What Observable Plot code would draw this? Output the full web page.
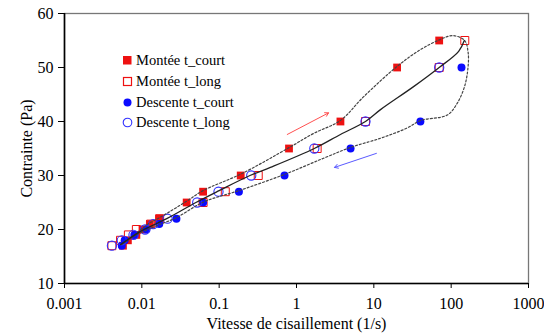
<!DOCTYPE html>
<html>
<head>
<meta charset="utf-8">
<script src="https://cdn.jsdelivr.net/npm/d3@7"></script>
<script src="https://cdn.jsdelivr.net/npm/@observablehq/plot@0.6"></script>
<style>
  body { margin: 0; background: #fff; }
  #wrap { position: relative; width: 544px; height: 335px; font-family: 'Liberation Serif', 'Times New Roman', serif; }
  .leg { position: absolute; left: 122px; font-size: 14.5px; line-height: 14px; color: #000; display: flex; align-items: center; white-space: nowrap; font-family: 'Liberation Serif', serif; }
  .leg svg { margin-right: 3px; }
</style>
</head>
<body>
<div id="wrap"></div>
<script>
// ---- Data ----
const xTicks = [0.001, 0.01, 0.1, 1, 10, 100, 1000];
const xTickLabels = ["0.001", "0.01", "0.1", "1", "10", "100", "1000"];
const yTicks = [10, 20, 30, 40, 50, 60];

const monteeCourtX = [0.0057, 0.0066, 0.0085, 0.0102, 0.0127, 0.0168, 0.038, 0.062, 0.19, 0.80, 3.7, 20, 70];
const monteeCourtY = [17, 18, 19, 20, 21, 22, 25, 27, 30, 35, 40, 50, 55];

const monteeLongX = [0.0041, 0.0053, 0.0067, 0.0085, 0.013, 0.017, 0.062, 0.12, 0.32, 1.85, 7.8, 70, 150];
const monteeLongY = [17, 18, 19, 20, 21, 22, 25, 27, 30, 35, 40, 50, 55];

const descenteCourtX = [0.0055, 0.006, 0.008, 0.0115, 0.0168, 0.028, 0.062, 0.18, 0.70, 5.0, 40, 136];
const descenteCourtY = [17, 18, 19, 20, 21, 22, 25, 27, 30, 35, 40, 50];

const descenteLongX = [0.0041, 0.0055, 0.0078, 0.011, 0.014, 0.0215, 0.052, 0.098, 0.26, 1.7, 7.8, 70];
const descenteLongY = [17, 18, 19, 20, 21, 22, 25, 27, 30, 35, 40, 50];

// solid fitted curve
const fitX = [0.0053, 0.01, 0.021, 0.05, 0.1, 0.25, 0.46, 1.7, 3.7, 7.8, 12.2, 33, 70, 125, 148];
const fitY = [17.2, 19.8, 22, 25, 27.2, 30, 31.5, 35, 37.6, 40, 42.2, 46.5, 50, 53, 55];

// dashed hysteresis loop (closed path)
const loopX = [0.0055, 0.008, 0.012, 0.017, 0.0386, 0.062, 0.193, 0.81, 1.67, 3.7, 7.4, 20, 40, 70, 105, 149, 166, 164, 149, 120, 89, 40.5, 27, 12.2, 5.0, 2.24, 0.70, 0.18, 0.063, 0.028, 0.015, 0.008, 0.0055];
const loopY = [17.2, 19, 21, 22.2, 25.3, 27.2, 30.3, 35.2, 37.8, 40.2, 44.6, 50.2, 53.3, 55.1, 55.9, 55, 52.7, 49.6, 46.5, 43.4, 41.2, 40.2, 38.8, 36.9, 35.2, 33.2, 30.2, 27.2, 25.1, 22.2, 20.6, 18.8, 17.2];

// direction arrows
const arrowX1 = [0.76, 10.8];
const arrowY1 = [37.6, 34.1];
const arrowX2 = [2.6, 3.1];
const arrowY2 = [41.6, 31.5];
const arrowColors = ["#ff5050", "#5a5aff"];

const legendLabels = ["Montée t_court", "Montée t_long", "Descente t_court", "Descente t_long"];

// ---- Build tables ----
const pts = (xs, ys) => xs.map((x, i) => ({x, y: ys[i]}));
const mc = pts(monteeCourtX, monteeCourtY);
const ml = pts(monteeLongX, monteeLongY);
const dc = pts(descenteCourtX, descenteCourtY);
const dl = pts(descenteLongX, descenteLongY);
const fit = pts(fitX, fitY);
const loop = pts(loopX, loopY);
const arrows = arrowX1.map((x1, i) => ({x1, y1: arrowY1[i], x2: arrowX2[i], y2: arrowY2[i], c: arrowColors[i]}));

const RED = "#ee1111";
const BLUE = "#0a0aff";

const chart = Plot.plot({
  width: 544,
  height: 335,
  marginLeft: 64,
  marginRight: 16,
  marginTop: 13,
  marginBottom: 52,
  style: {fontFamily: "'Liberation Serif', 'Times New Roman', serif", fontSize: "16px", color: "#000", background: "#fff"},
  x: {type: "log", domain: [0.001, 1000], labelArrow: "none"},
  y: {domain: [10, 60], labelArrow: "none"},
  marks: [
    Plot.frame({stroke: "#777", strokeWidth: 1.3}),
    Plot.ruleX([0.001], {stroke: "#000", strokeWidth: 1.6}),
    Plot.ruleY([10], {stroke: "#000", strokeWidth: 1.6}),
    Plot.axisX({ticks: xTicks, tickFormat: d => xTickLabels[xTicks.indexOf(d)], tickSize: 5, tickPadding: 9,
      label: "Vitesse de cisaillement (1/s)", labelAnchor: "center", labelOffset: 45, labelArrow: "none", stroke: "#000"}),
    Plot.axisY({ticks: yTicks, tickSize: 6, tickPadding: 5,
      label: "Contrainte (Pa)", labelAnchor: "center", labelOffset: 44, labelArrow: "none", stroke: "#000"}),
    Plot.dot(mc, {x: "x", y: "y", symbol: "square", r: 4.4, fill: RED, stroke: "none"}),
    Plot.dot(ml, {x: "x", y: "y", symbol: "square", r: 4.5, fill: "none", stroke: RED, strokeWidth: 1}),
    Plot.dot(dc, {x: "x", y: "y", symbol: "circle", r: 4, fill: BLUE, stroke: "none"}),
    Plot.dot(dl, {x: "x", y: "y", symbol: "circle", r: 4.6, fill: "none", stroke: "#3030ff", strokeWidth: 1.1}),
    Plot.line(loop, {x: "x", y: "y", curve: "catmull-rom", stroke: "#444", strokeWidth: 1.2, strokeDasharray: "2,2"}),
    Plot.line(fit, {x: "x", y: "y", curve: "catmull-rom", stroke: "#222", strokeWidth: 1.3}),
    Plot.arrow(arrows, {x1: "x1", y1: "y1", x2: "x2", y2: "y2", stroke: "c", strokeWidth: 1, headLength: 6})
  ]
});

const wrap = document.getElementById("wrap");
wrap.appendChild(chart);

// Legend (HTML overlay inside plot area)
const legSymbols = [
  '<svg width="11" height="11"><rect x="1" y="1" width="8.5" height="8.5" style="fill:' + RED + ';stroke:none"/></svg>',
  '<svg width="11" height="11"><rect x="1.5" y="1.5" width="8" height="8" style="fill:none;stroke:' + RED + ';stroke-width:1.2"/></svg>',
  '<svg width="11" height="11"><circle cx="5.5" cy="5.5" r="4" style="fill:' + BLUE + ';stroke:none"/></svg>',
  '<svg width="11" height="11"><circle cx="5.5" cy="5.5" r="4.3" style="fill:none;stroke:#3030ff;stroke-width:1.1"/></svg>'
];
const legTops = [53, 74, 95, 115];
legendLabels.forEach((lab, i) => {
  const d = document.createElement("div");
  d.className = "leg";
  d.style.top = legTops[i] + "px";
  d.innerHTML = legSymbols[i] + '<span>' + lab + '</span>';
  wrap.appendChild(d);
});
</script>
</body>
</html>
